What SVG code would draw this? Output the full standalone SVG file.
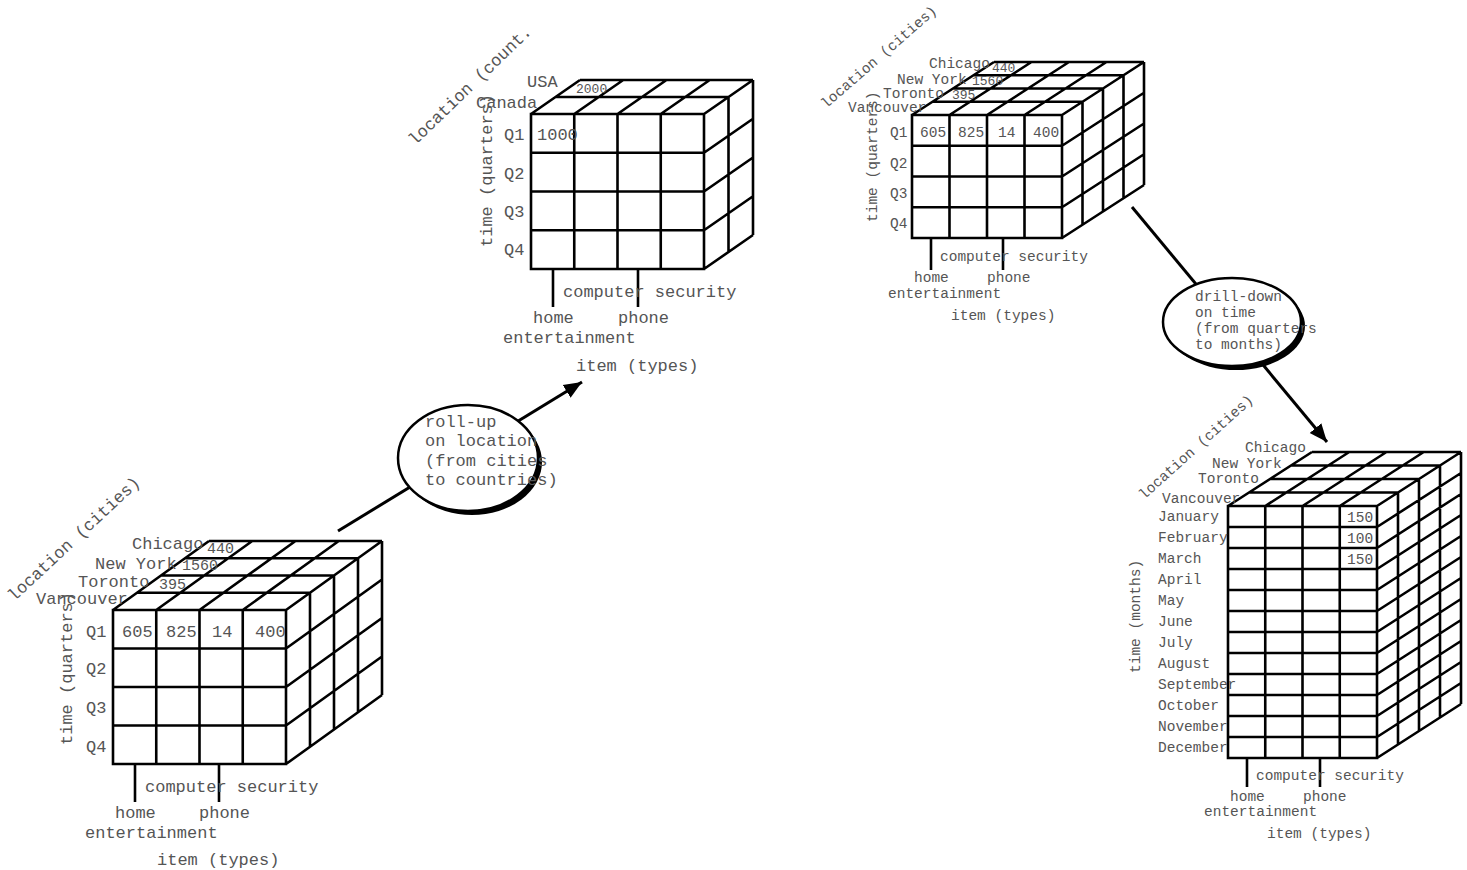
<svg xmlns="http://www.w3.org/2000/svg" width="1467" height="870" viewBox="0 0 1467 870">
  <defs>
    <marker id="arrow" viewBox="0 0 10 10" refX="10" refY="5" markerWidth="6" markerHeight="6" orient="auto">
      <path d="M0,0.8 L10,5 L0,9.2 z" fill="#000"/>
    </marker>
    <style>
      .grid { fill: none; stroke: #000; stroke-width: 2.6; stroke-linejoin: miter; }
      .tick { stroke: #000; stroke-width: 2.6; }
      text { font-family: "Liberation Mono", "DejaVu Sans Mono", monospace; fill: #555; }
      .big { font-size: 17px; }
      .small { font-size: 14.5px; }
      .num { font-size: 15px; }
      .numsm { font-size: 13px; }
      .conn { stroke: #000; stroke-width: 3; fill: none; }
      .shadow { fill: #000; stroke: none; }
      .oval { fill: #fff; stroke: #000; stroke-width: 2.5; }
    </style>
  </defs>
  <rect width="1467" height="870" fill="#fff"/>

  <!-- connectors -->
  <g id="connectors">
    <line class="conn" x1="338" y1="531" x2="582" y2="382" marker-end="url(#arrow)"/>
    <line class="conn" x1="1132" y1="207" x2="1327" y2="442" marker-end="url(#arrow)"/>
  </g>

  <!-- cube: cities x quarters x item types (bottom left) -->
  <g id="cube-cities-quarters-left">
    <path class="grid" d="M113,610H286V764H113Z M156.25,610V764 M199.5,610V764 M242.75,610V764 M113,648.5H286 M113,687H286 M113,725.5H286
      M137,592.75H310 M161,575.5H334 M185,558.25H358 M209,541H382
      M113,610l96,-69 M156.25,610l96,-69 M199.5,610l96,-69 M242.75,610l96,-69 M286,610l96,-69
      M310,592.75v154 M334,575.5v154 M358,558.25v154 M382,541v154
      M286,648.5l96,-69 M286,687l96,-69 M286,725.5l96,-69 M286,764l96,-69"/>
    <path class="tick" d="M135,764V802 M219,764V802"/>
    <text class="big" x="132" y="549">Chicago</text>
    <text class="num" x="207" y="553">440</text>
    <text class="big" x="95" y="569">New York</text>
    <text class="num" x="182" y="570">1560</text>
    <text class="big" x="78" y="587">Toronto</text>
    <text class="num" x="159" y="589">395</text>
    <text class="big" x="36" y="604">Vancouver</text>
    <text class="big" x="86" y="637">Q1</text>
    <text class="big" x="86" y="674">Q2</text>
    <text class="big" x="86" y="713">Q3</text>
    <text class="big" x="86" y="752">Q4</text>
    <text class="big" x="122" y="637">605</text>
    <text class="big" x="166" y="637">825</text>
    <text class="big" x="212" y="637">14</text>
    <text class="big" x="255" y="637">400</text>
    <text class="big" transform="translate(14,602) rotate(-43)">location (cities)</text>
    <text class="big" transform="translate(72,745) rotate(-90)">time (quarters)</text>
    <text class="big" x="145" y="792">computer security</text>
    <text class="big" x="115" y="818">home</text>
    <text class="big" x="199" y="818">phone</text>
    <text class="big" x="85" y="838">entertainment</text>
    <text class="big" x="157" y="865">item (types)</text>
  </g>

  <!-- cube: countries x quarters x item types (top middle) -->
  <g id="cube-countries-quarters">
    <path class="grid" d="M531,114H704V269H531Z M574.25,114V269 M617.5,114V269 M660.75,114V269 M531,152.75H704 M531,191.5H704 M531,230.25H704
      M555.5,97H728.5 M580,80H753
      M531,114l49,-34 M574.25,114l49,-34 M617.5,114l49,-34 M660.75,114l49,-34 M704,114l49,-34
      M728.5,97v155 M753,80v155
      M704,152.75l49,-34 M704,191.5l49,-34 M704,230.25l49,-34 M704,269l49,-34"/>
    <path class="tick" d="M553,269V307 M638,269V307"/>
    <text class="big" x="527" y="87">USA</text>
    <text class="numsm" x="576" y="93">2000</text>
    <text class="big" x="476" y="108">Canada</text>
    <text class="big" x="504" y="140">Q1</text>
    <text class="big" x="504" y="179">Q2</text>
    <text class="big" x="504" y="217">Q3</text>
    <text class="big" x="504" y="255">Q4</text>
    <text class="big" x="537" y="140">1000</text>
    <text class="big" transform="translate(415,146) rotate(-44)">location (count.</text>
    <text class="big" transform="translate(492,247) rotate(-90)">time (quarters)</text>
    <text class="big" x="563" y="297">computer security</text>
    <text class="big" x="533" y="323">home</text>
    <text class="big" x="618" y="323">phone</text>
    <text class="big" x="503" y="343">entertainment</text>
    <text class="big" x="576" y="371">item (types)</text>
  </g>

  <!-- cube: cities x quarters x item types (top right) -->
  <g id="cube-cities-quarters-right">
    <path class="grid" d="M912,115H1062V238H912Z M949.5,115V238 M987,115V238 M1024.5,115V238 M912,145.75H1062 M912,176.5H1062 M912,207.25H1062
      M932.5,101.75H1082.5 M953,88.5H1103 M973.5,75.25H1123.5 M994,62H1144
      M912,115l82,-53 M949.5,115l82,-53 M987,115l82,-53 M1024.5,115l82,-53 M1062,115l82,-53
      M1082.5,101.75v123 M1103,88.5v123 M1123.5,75.25v123 M1144,62v123
      M1062,145.75l82,-53 M1062,176.5l82,-53 M1062,207.25l82,-53 M1062,238l82,-53"/>
    <path class="tick" d="M931,238V270 M1003,238V270"/>
    <text class="small" x="929" y="68">Chicago</text>
    <text class="numsm" x="992" y="72">440</text>
    <text class="small" x="897" y="84">New York</text>
    <text class="numsm" x="972" y="85">1560</text>
    <text class="small" x="883" y="98">Toronto</text>
    <text class="numsm" x="952" y="99">395</text>
    <text class="small" x="848" y="112">Vancouver</text>
    <text class="small" x="890" y="137">Q1</text>
    <text class="small" x="890" y="168">Q2</text>
    <text class="small" x="890" y="198">Q3</text>
    <text class="small" x="890" y="228">Q4</text>
    <text class="small" x="920" y="137">605</text>
    <text class="small" x="958" y="137">825</text>
    <text class="small" x="998" y="137">14</text>
    <text class="small" x="1033" y="137">400</text>
    <text class="small" transform="translate(826,109) rotate(-41)">location (cities)</text>
    <text class="small" transform="translate(877,222) rotate(-90)">time (quarters)</text>
    <text class="small" x="940" y="261">computer security</text>
    <text class="small" x="914" y="282">home</text>
    <text class="small" x="987" y="282">phone</text>
    <text class="small" x="888" y="298">entertainment</text>
    <text class="small" x="951" y="320">item (types)</text>
  </g>

  <!-- cube: cities x months x item types (bottom right) -->
  <g id="cube-cities-months">
    <path class="grid" d="M1228,506H1377V758H1228Z M1265.25,506V758 M1302.5,506V758 M1339.75,506V758
      M1228,527H1377 M1228,548H1377 M1228,569H1377 M1228,590H1377 M1228,611H1377 M1228,632H1377
      M1228,653H1377 M1228,674H1377 M1228,695H1377 M1228,716H1377 M1228,737H1377
      M1249,492.5H1398 M1270,479H1419 M1291,465.5H1440 M1312,452H1461
      M1228,506l84,-54 M1265.25,506l84,-54 M1302.5,506l84,-54 M1339.75,506l84,-54 M1377,506l84,-54
      M1398,492.5v252 M1419,479v252 M1440,465.5v252 M1461,452v252
      M1377,527l84,-54 M1377,548l84,-54 M1377,569l84,-54 M1377,590l84,-54 M1377,611l84,-54 M1377,632l84,-54
      M1377,653l84,-54 M1377,674l84,-54 M1377,695l84,-54 M1377,716l84,-54 M1377,737l84,-54 M1377,758l84,-54"/>
    <path class="tick" d="M1247,758V787 M1320,758V787"/>
    <text class="small" x="1245" y="452">Chicago</text>
    <text class="small" x="1212" y="468">New York</text>
    <text class="small" x="1198" y="483">Toronto</text>
    <text class="small" x="1162" y="503">Vancouver</text>
    <text class="small" x="1158" y="521">January</text>
    <text class="small" x="1158" y="542">February</text>
    <text class="small" x="1158" y="563">March</text>
    <text class="small" x="1158" y="584">April</text>
    <text class="small" x="1158" y="605">May</text>
    <text class="small" x="1158" y="626">June</text>
    <text class="small" x="1158" y="647">July</text>
    <text class="small" x="1158" y="668">August</text>
    <text class="small" x="1158" y="689">September</text>
    <text class="small" x="1158" y="710">October</text>
    <text class="small" x="1158" y="731">November</text>
    <text class="small" x="1158" y="752">December</text>
    <text class="small" x="1347" y="522">150</text>
    <text class="small" x="1347" y="543">100</text>
    <text class="small" x="1347" y="564">150</text>
    <text class="small" transform="translate(1144,500) rotate(-42)">location (cities)</text>
    <text class="small" transform="translate(1140,673) rotate(-90)">time (months)</text>
    <text class="small" x="1256" y="780">computer security</text>
    <text class="small" x="1230" y="801">home</text>
    <text class="small" x="1303" y="801">phone</text>
    <text class="small" x="1204" y="816">entertainment</text>
    <text class="small" x="1267" y="838">item (types)</text>
  </g>

  <!-- operation: roll-up -->
  <g id="op-roll-up">
    <ellipse class="shadow" cx="472" cy="462" rx="70" ry="53"/>
    <ellipse class="oval" cx="468" cy="458" rx="70" ry="53"/>
    <text class="big" x="425" y="427">roll-up</text>
    <text class="big" x="425" y="446">on location</text>
    <text class="big" x="425" y="466">(from cities</text>
    <text class="big" x="425" y="485">to countries)</text>
  </g>

  <!-- operation: drill-down -->
  <g id="op-drill-down">
    <ellipse class="shadow" cx="1236" cy="326" rx="69" ry="44"/>
    <ellipse class="oval" cx="1232" cy="322" rx="69" ry="44"/>
    <text class="small" x="1195" y="301">drill-down</text>
    <text class="small" x="1195" y="317">on time</text>
    <text class="small" x="1195" y="333">(from quarters</text>
    <text class="small" x="1195" y="349">to months)</text>
  </g>
</svg>
